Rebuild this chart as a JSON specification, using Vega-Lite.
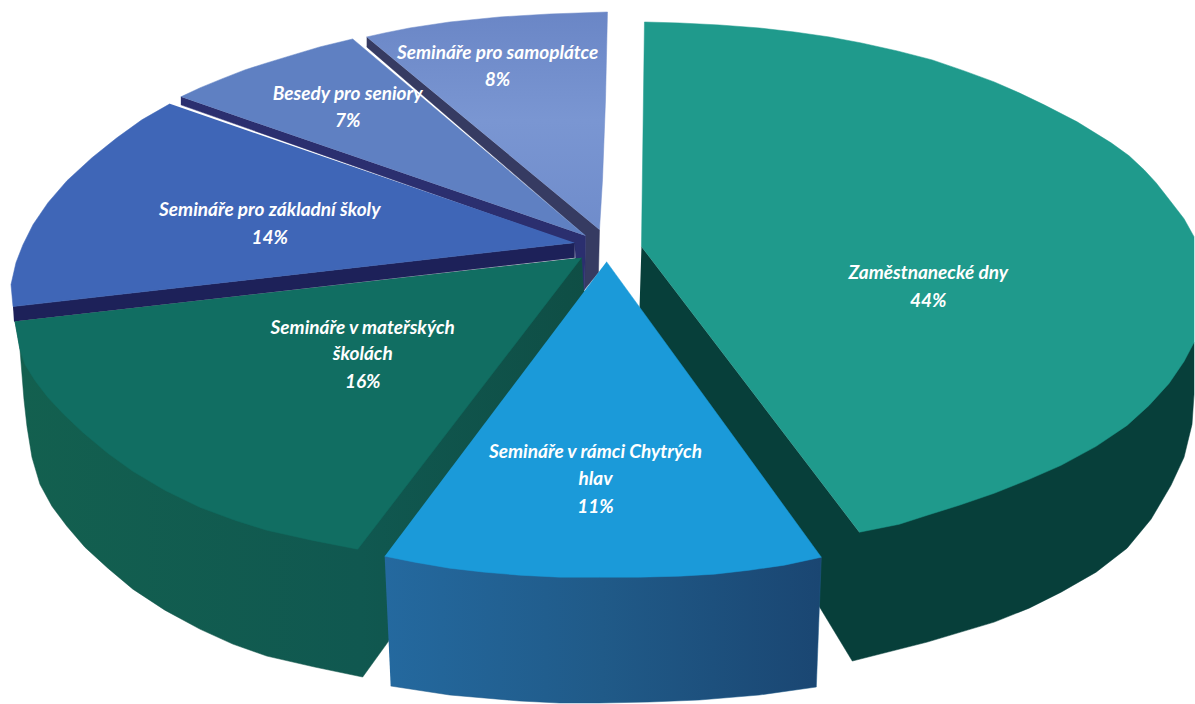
{"$schema":"https://vega.github.io/schema/vega-lite/v6.json","width":1195,"height":704,"autosize":{"type":"fit","contains":"padding"},"padding":0,"background":"white","view":{"stroke":null},
"datasets":{"outlines":[
{"shape":"samoSide","seq":1,"x":367,"y":37},{"shape":"samoSide","seq":2,"x":600,"y":230},{"shape":"samoSide","seq":3,"x":599,"y":273},{"shape":"samoSide","seq":4,"x":585,"y":290},{"shape":"samoSide","seq":5,"x":586,"y":236},{"shape":"samoSide","seq":6,"x":367,"y":47},
{"shape":"samoTop","seq":1,"x":367,"y":37},{"shape":"samoTop","seq":2,"x":385,"y":33},{"shape":"samoTop","seq":3,"x":410,"y":28},{"shape":"samoTop","seq":4,"x":450,"y":22},{"shape":"samoTop","seq":5,"x":500,"y":17},{"shape":"samoTop","seq":6,"x":550,"y":14},{"shape":"samoTop","seq":7,"x":608,"y":12},{"shape":"samoTop","seq":8,"x":606,"y":100},{"shape":"samoTop","seq":9,"x":603,"y":180},{"shape":"samoTop","seq":10,"x":600,"y":230},
{"shape":"besedySide","seq":1,"x":181,"y":97},{"shape":"besedySide","seq":2,"x":586,"y":236},{"shape":"besedySide","seq":3,"x":585,"y":290},{"shape":"besedySide","seq":4,"x":579,"y":296},{"shape":"besedySide","seq":5,"x":575,"y":244},{"shape":"besedySide","seq":6,"x":181,"y":105},
{"shape":"besedyTop","seq":1,"x":181,"y":97},{"shape":"besedyTop","seq":2,"x":200,"y":88},{"shape":"besedyTop","seq":3,"x":222,"y":79},{"shape":"besedyTop","seq":4,"x":245,"y":70},{"shape":"besedyTop","seq":5,"x":267,"y":63},{"shape":"besedyTop","seq":6,"x":290,"y":56},{"shape":"besedyTop","seq":7,"x":320,"y":47},{"shape":"besedyTop","seq":8,"x":353,"y":39},{"shape":"besedyTop","seq":9,"x":586,"y":236},
{"shape":"zsSide","seq":1,"x":13,"y":307},{"shape":"zsSide","seq":2,"x":575,"y":243},{"shape":"zsSide","seq":3,"x":575,"y":258},{"shape":"zsSide","seq":4,"x":14,"y":322},
{"shape":"zsTop","seq":1,"x":170,"y":104},{"shape":"zsTop","seq":2,"x":142,"y":120},{"shape":"zsTop","seq":3,"x":117,"y":138},{"shape":"zsTop","seq":4,"x":92,"y":158},{"shape":"zsTop","seq":5,"x":67,"y":181},{"shape":"zsTop","seq":6,"x":48,"y":203},{"shape":"zsTop","seq":7,"x":33,"y":225},{"shape":"zsTop","seq":8,"x":23,"y":245},{"shape":"zsTop","seq":9,"x":16,"y":263},{"shape":"zsTop","seq":10,"x":11,"y":285},{"shape":"zsTop","seq":11,"x":13,"y":307},{"shape":"zsTop","seq":12,"x":575,"y":243},
{"shape":"msSide","seq":1,"x":15,"y":322},{"shape":"msSide","seq":2,"x":20,"y":350},{"shape":"msSide","seq":3,"x":24,"y":400},{"shape":"msSide","seq":4,"x":27,"y":427},{"shape":"msSide","seq":5,"x":32,"y":458},{"shape":"msSide","seq":6,"x":40,"y":485},{"shape":"msSide","seq":7,"x":52,"y":507},{"shape":"msSide","seq":8,"x":67,"y":527},{"shape":"msSide","seq":9,"x":85,"y":548},{"shape":"msSide","seq":10,"x":108,"y":569},{"shape":"msSide","seq":11,"x":133,"y":590},{"shape":"msSide","seq":12,"x":165,"y":611},{"shape":"msSide","seq":13,"x":200,"y":630},{"shape":"msSide","seq":14,"x":233,"y":645},{"shape":"msSide","seq":15,"x":267,"y":657},{"shape":"msSide","seq":16,"x":315,"y":668},{"shape":"msSide","seq":17,"x":363,"y":678},{"shape":"msSide","seq":18,"x":389,"y":642},{"shape":"msSide","seq":19,"x":400,"y":600},{"shape":"msSide","seq":20,"x":400,"y":555},{"shape":"msSide","seq":21,"x":590,"y":300},{"shape":"msSide","seq":22,"x":584,"y":290},{"shape":"msSide","seq":23,"x":582,"y":258},
{"shape":"msTop","seq":1,"x":15,"y":322},{"shape":"msTop","seq":2,"x":20,"y":350},{"shape":"msTop","seq":3,"x":25,"y":365},{"shape":"msTop","seq":4,"x":35,"y":381},{"shape":"msTop","seq":5,"x":48,"y":398},{"shape":"msTop","seq":6,"x":64,"y":415},{"shape":"msTop","seq":7,"x":83,"y":433},{"shape":"msTop","seq":8,"x":108,"y":454},{"shape":"msTop","seq":9,"x":133,"y":472},{"shape":"msTop","seq":10,"x":165,"y":491},{"shape":"msTop","seq":11,"x":200,"y":508},{"shape":"msTop","seq":12,"x":235,"y":521},{"shape":"msTop","seq":13,"x":267,"y":531},{"shape":"msTop","seq":14,"x":312,"y":541},{"shape":"msTop","seq":15,"x":358,"y":550},{"shape":"msTop","seq":16,"x":582,"y":258},
{"shape":"zamSide","seq":1,"x":642,"y":247},{"shape":"zamSide","seq":2,"x":860,"y":533},{"shape":"zamSide","seq":3,"x":1195,"y":343},{"shape":"zamSide","seq":4,"x":1195,"y":395},{"shape":"zamSide","seq":5,"x":1193,"y":425},{"shape":"zamSide","seq":6,"x":1185,"y":458},{"shape":"zamSide","seq":7,"x":1172,"y":486},{"shape":"zamSide","seq":8,"x":1152,"y":520},{"shape":"zamSide","seq":9,"x":1128,"y":549},{"shape":"zamSide","seq":10,"x":1097,"y":573},{"shape":"zamSide","seq":11,"x":1062,"y":593},{"shape":"zamSide","seq":12,"x":1030,"y":609},{"shape":"zamSide","seq":13,"x":995,"y":623},{"shape":"zamSide","seq":14,"x":928,"y":643},{"shape":"zamSide","seq":15,"x":853,"y":662},{"shape":"zamSide","seq":16,"x":640,"y":310},
{"shape":"zamTop","seq":1,"x":642,"y":247},{"shape":"zamTop","seq":2,"x":645,"y":22},{"shape":"zamTop","seq":3,"x":680,"y":23},{"shape":"zamTop","seq":4,"x":720,"y":25},{"shape":"zamTop","seq":5,"x":760,"y":28},{"shape":"zamTop","seq":6,"x":795,"y":32},{"shape":"zamTop","seq":7,"x":830,"y":37},{"shape":"zamTop","seq":8,"x":862,"y":43},{"shape":"zamTop","seq":9,"x":898,"y":51},{"shape":"zamTop","seq":10,"x":933,"y":60},{"shape":"zamTop","seq":11,"x":965,"y":71},{"shape":"zamTop","seq":12,"x":995,"y":82},{"shape":"zamTop","seq":13,"x":1020,"y":93},{"shape":"zamTop","seq":14,"x":1045,"y":105},{"shape":"zamTop","seq":15,"x":1078,"y":122},{"shape":"zamTop","seq":16,"x":1112,"y":143},{"shape":"zamTop","seq":17,"x":1130,"y":156},{"shape":"zamTop","seq":18,"x":1145,"y":170},{"shape":"zamTop","seq":19,"x":1157,"y":183},{"shape":"zamTop","seq":20,"x":1168,"y":197},{"shape":"zamTop","seq":21,"x":1185,"y":219},{"shape":"zamTop","seq":22,"x":1195,"y":237},{"shape":"zamTop","seq":23,"x":1195,"y":343},{"shape":"zamTop","seq":24,"x":1185,"y":362},{"shape":"zamTop","seq":25,"x":1170,"y":384},{"shape":"zamTop","seq":26,"x":1150,"y":406},{"shape":"zamTop","seq":27,"x":1128,"y":426},{"shape":"zamTop","seq":28,"x":1097,"y":447},{"shape":"zamTop","seq":29,"x":1062,"y":466},{"shape":"zamTop","seq":30,"x":1030,"y":480},{"shape":"zamTop","seq":31,"x":995,"y":494},{"shape":"zamTop","seq":32,"x":960,"y":506},{"shape":"zamTop","seq":33,"x":928,"y":516},{"shape":"zamTop","seq":34,"x":900,"y":525},{"shape":"zamTop","seq":35,"x":860,"y":533},
{"shape":"chySide","seq":1,"x":385,"y":557},{"shape":"chySide","seq":2,"x":822,"y":558},{"shape":"chySide","seq":3,"x":817,"y":688},{"shape":"chySide","seq":4,"x":760,"y":696},{"shape":"chySide","seq":5,"x":700,"y":701},{"shape":"chySide","seq":6,"x":650,"y":703},{"shape":"chySide","seq":7,"x":600,"y":704},{"shape":"chySide","seq":8,"x":560,"y":704},{"shape":"chySide","seq":9,"x":520,"y":702},{"shape":"chySide","seq":10,"x":450,"y":696},{"shape":"chySide","seq":11,"x":391,"y":687},
{"shape":"chyTop","seq":1,"x":607,"y":262},{"shape":"chyTop","seq":2,"x":822,"y":558},{"shape":"chyTop","seq":3,"x":785,"y":566},{"shape":"chyTop","seq":4,"x":750,"y":571},{"shape":"chyTop","seq":5,"x":715,"y":575},{"shape":"chyTop","seq":6,"x":680,"y":577},{"shape":"chyTop","seq":7,"x":640,"y":578},{"shape":"chyTop","seq":8,"x":600,"y":578},{"shape":"chyTop","seq":9,"x":560,"y":578},{"shape":"chyTop","seq":10,"x":520,"y":576},{"shape":"chyTop","seq":11,"x":485,"y":573},{"shape":"chyTop","seq":12,"x":450,"y":569},{"shape":"chyTop","seq":13,"x":415,"y":563},{"shape":"chyTop","seq":14,"x":385,"y":557}
],
"labels":[
{"text":"Zaměstnanecké dny","x":929,"y":273},{"text":"44%","x":929,"y":301},
{"text":"Semináře v rámci Chytrých","x":596,"y":453},{"text":"hlav","x":596,"y":480},{"text":"11%","x":596,"y":508},
{"text":"Semináře v mateřských","x":363,"y":328},{"text":"školách","x":363,"y":355},{"text":"16%","x":363,"y":383},
{"text":"Semináře pro základní školy","x":270,"y":210},{"text":"14%","x":270,"y":238},
{"text":"Besedy pro seniory","x":348,"y":94},{"text":"7%","x":348,"y":121},
{"text":"Semináře pro samoplátce","x":498,"y":53},{"text":"8%","x":498,"y":80}
]},
"data":{"name":"outlines"},
"encoding":{
"x":{"field":"x","type":"quantitative","scale":{"domain":[0,1195],"nice":false,"zero":false},"axis":null},
"y":{"field":"y","type":"quantitative","scale":{"domain":[704,0],"nice":false,"zero":false},"axis":null},
"order":{"field":"seq","type":"quantitative"}},
"layer":[
{"transform":[{"filter":"datum.shape==='samoSide'"}],"mark":{"type":"line","fill":"#363b62","stroke":"#363b62","strokeWidth":0.5}},
{"transform":[{"filter":"datum.shape==='samoTop'"}],"mark":{"type":"line","stroke":"#6f8bc9","strokeWidth":0.5,"fill":{"gradient":"linear","x1":0.5,"y1":0,"x2":0.5,"y2":1,"stops":[{"offset":0,"color":"#6a86c6"},{"offset":0.5,"color":"#7a96d2"},{"offset":1,"color":"#6f8ccb"}]}}},
{"transform":[{"filter":"datum.shape==='besedySide'"}],"mark":{"type":"line","fill":"#2b2f6f","stroke":"#2b2f6f","strokeWidth":0.5}},
{"transform":[{"filter":"datum.shape==='besedyTop'"}],"mark":{"type":"line","fill":"#5f80c2","stroke":"#5f80c2","strokeWidth":0.5}},
{"transform":[{"filter":"datum.shape==='zsSide'"}],"mark":{"type":"line","fill":"#1d2159","stroke":"#1d2159","strokeWidth":0.5}},
{"transform":[{"filter":"datum.shape==='zsTop'"}],"mark":{"type":"line","fill":"#3f66b7","stroke":"#3f66b7","strokeWidth":0.5}},
{"transform":[{"filter":"datum.shape==='msSide'"}],"mark":{"type":"line","stroke":"#115449","strokeWidth":0.5,"fill":{"gradient":"linear","x1":0,"y1":0,"x2":1,"y2":0,"stops":[{"offset":0,"color":"#13604f"},{"offset":0.6,"color":"#105850"},{"offset":1,"color":"#0f4e45"}]}}},
{"transform":[{"filter":"datum.shape==='msTop'"}],"mark":{"type":"line","fill":"#116e62","stroke":"#116e62","strokeWidth":0.5}},
{"transform":[{"filter":"datum.shape==='zamSide'"}],"mark":{"type":"line","fill":"#073f3a","stroke":"#073f3a","strokeWidth":0.5}},
{"transform":[{"filter":"datum.shape==='zamTop'"}],"mark":{"type":"line","fill":"#1f9a8c","stroke":"#1f9a8c","strokeWidth":0.5}},
{"transform":[{"filter":"datum.shape==='chySide'"}],"mark":{"type":"line","stroke":"#1f5a88","strokeWidth":0.5,"fill":{"gradient":"linear","x1":0,"y1":0,"x2":1,"y2":0,"stops":[{"offset":0,"color":"#24699f"},{"offset":0.5,"color":"#205a88"},{"offset":1,"color":"#1a4672"}]}}},
{"transform":[{"filter":"datum.shape==='chyTop'"}],"mark":{"type":"line","fill":"#1b9ad9","stroke":"#1b9ad9","strokeWidth":0.5}},
{"data":{"name":"labels"},"mark":{"type":"text","color":"#ffffff","font":"Lato","fontStyle":"italic","fontWeight":"bold","fontSize":19,"align":"center","baseline":"middle"},"encoding":{"text":{"field":"text","type":"nominal"},"order":{"value":null}}}
]}
